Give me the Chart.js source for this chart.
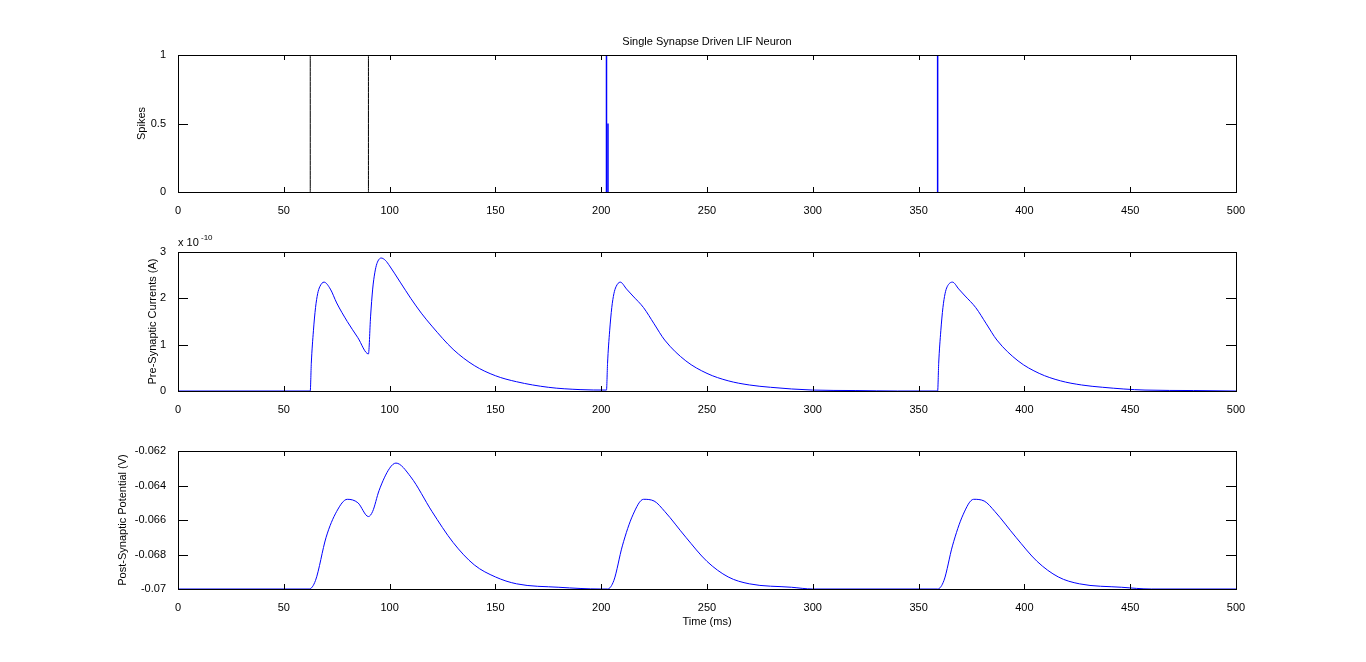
<!DOCTYPE html>
<html><head>
<script src="https://cdn.jsdelivr.net/npm/chart.js@4.4.0/dist/chart.umd.min.js"></script>
<style>
body{margin:0;background:#fff;width:1366px;height:662px;overflow:hidden;position:relative}
.c{position:absolute}
</style></head><body>
<div class="c" id="w1" style="top:0;height:215px"><canvas id="c1"></canvas></div>
<div class="c" id="w2" style="top:215px;height:199px"><canvas id="c2"></canvas></div>
<div class="c" id="w3" style="top:414px;height:215px"><canvas id="c3"></canvas></div>
<script>
// spikes: [time, height]
const inputSpikes = [[62.5, 1], [90, 1]];
const outputSpikes = [[202.5, 1], [203.2, 0.5], [359, 1]];
const xTicks = [0, 50, 100, 150, 200, 250, 300, 350, 400, 450, 500];

// pre-synaptic current, units of 1e-10 A
const curT = [0, 62.5, 63, 64, 65, 66, 67, 69, 72, 75, 80, 85, 90, 91, 92, 93, 94, 96, 98, 100, 105, 110, 115, 120, 130, 140, 150, 160, 175, 190, 202.5,
  203, 204, 205, 206, 207, 209, 212, 215, 220, 225, 230, 240, 250, 260, 270, 280, 300, 320, 340, 359,
  359.5, 360.5, 361.5, 362.5, 363.5, 366, 369, 372, 377, 382, 387, 397, 407, 417, 427, 437, 457, 480, 500];
const curV = [0, 0, 0.6, 1.3, 1.8, 2.1, 2.25, 2.35, 2.2, 1.9, 1.5, 1.15, 0.8, 1.6, 2.2, 2.55, 2.75, 2.87, 2.82, 2.7, 2.35, 2.0, 1.68, 1.4, 0.9, 0.55, 0.33, 0.2, 0.08, 0.03, 0.02,
  0.6, 1.3, 1.8, 2.1, 2.25, 2.35, 2.2, 2.05, 1.8, 1.45, 1.1, 0.65, 0.38, 0.22, 0.13, 0.08, 0.02, 0.01, 0.0, 0.0,
  0.6, 1.3, 1.8, 2.1, 2.25, 2.35, 2.2, 2.05, 1.8, 1.45, 1.1, 0.65, 0.38, 0.22, 0.13, 0.08, 0.02, 0.01, 0.0];

// post-synaptic potential, V
const volT = [0, 62, 65, 70, 75, 80, 85, 90, 92, 95, 100, 103, 110, 120, 130, 140, 150, 160, 180, 200, 203,
  206, 210, 215, 220, 225, 230, 240, 250, 260, 270, 290, 300, 359,
  362, 366, 371, 376, 381, 386, 396, 406, 416, 426, 446, 460, 500];
const volV = [-0.07, -0.07, -0.0695, -0.0670, -0.0655, -0.0648, -0.0650, -0.0658, -0.0655, -0.0643, -0.0630, -0.0627, -0.0635, -0.0655, -0.0673, -0.0686, -0.0693, -0.0697, -0.0699, -0.07, -0.07,
  -0.0695, -0.0675, -0.0657, -0.0648, -0.0649, -0.0655, -0.0670, -0.0684, -0.0693, -0.0697, -0.0699, -0.07, -0.07,
  -0.0695, -0.0675, -0.0657, -0.0648, -0.0649, -0.0655, -0.0670, -0.0684, -0.0693, -0.0697, -0.0699, -0.07, -0.07];

Chart.defaults.font.family = 'Liberation Sans, Arial, sans-serif';
Chart.defaults.font.size = 11;
Chart.defaults.color = '#000';

const boxPlugin = {
  id: 'box',
  afterDraw(chart, args, opts) {
    const {ctx, chartArea: a, scales} = chart;
    ctx.save();
    ctx.strokeStyle = '#000'; ctx.lineWidth = 1;
    ctx.strokeRect(Math.round(a.left) + 0.5, Math.round(a.top) + 0.5, Math.round(a.right - a.left), Math.round(a.bottom - a.top));
    ctx.beginPath();
    scales.x.ticks.forEach((t, i) => {
      const x = Math.round(scales.x.getPixelForTick(i)) + 0.5;
      ctx.moveTo(x, a.bottom); ctx.lineTo(x, a.bottom - 5);
      ctx.moveTo(x, a.top); ctx.lineTo(x, a.top + 5);
    });
    scales.y.ticks.forEach((t, i) => {
      const y = Math.round(scales.y.getPixelForTick(i)) + 0.5;
      ctx.moveTo(a.left, y); ctx.lineTo(a.left + 10, y);
      ctx.moveTo(a.right, y); ctx.lineTo(a.right - 10, y);
    });
    ctx.stroke();
    if (opts.title) {
      ctx.textAlign = 'center'; ctx.textBaseline = 'bottom';
      ctx.fillText(opts.title, (a.left + a.right) / 2, a.top - 8);
    }
    if (opts.exp) {
      ctx.textAlign = 'left'; ctx.textBaseline = 'bottom';
      ctx.fillText('x 10', a.left, a.top - 4);
      ctx.font = '8px Liberation Sans, Arial, sans-serif';
      ctx.fillText('-10', a.left + 23, a.top - 10);
    }
    ctx.restore();
  }
};

function makeChart(id, left, datasets, yMin, yMax, yStep, yLabel, padTop, xTitle, opts) {
  const w = document.getElementById('w' + id.slice(1));
  w.style.left = left + 'px'; w.style.width = (1366 - left) + 'px';
  return new Chart(document.getElementById(id), {
    type: 'line',
    data: {datasets},
    plugins: [boxPlugin],
    options: {
      responsive: true, maintainAspectRatio: false, animation: false,
      layout: {padding: {top: padTop, right: 130, left: 0, bottom: 0}},
      plugins: {legend: {display: false}, tooltip: {enabled: false}, box: opts},
      elements: {point: {radius: 0}, line: {borderWidth: 1, cubicInterpolationMode: 'monotone'}},
      scales: {
        x: {
          type: 'linear', min: 0, max: 500,
          afterBuildTicks: s => { s.ticks = xTicks.map(v => ({value: v})); },
          afterFit: s => { s.height = xTitle ? 40 : 23; },
          grid: {display: false}, border: {display: false},
          ticks: {padding: 4, maxRotation: 0},
          title: {display: !!xTitle, text: xTitle, padding: 0}
        },
        y: {
          min: yMin, max: yMax,
          afterFit: s => { s.width = 178 - left; },
          grid: {display: false}, border: {display: false},
          ticks: {stepSize: yStep, padding: 4, callback: v => opts.fmt ? opts.fmt(v) : v},
          title: {display: true, text: yLabel, padding: 0}
        }
      }
    }
  });
}

const spikeSets = inputSpikes.map(s => ({data: [{x: s[0], y: 0}, {x: s[0], y: s[1]}], borderColor: '#000'}))
  .concat(outputSpikes.map(s => ({data: [{x: s[0], y: 0}, {x: s[0], y: s[1]}], borderColor: '#0000ff', borderWidth: 1.5})));
makeChart('c1', 135, spikeSets, 0, 1, 0.5, 'Spikes', 55, null, {title: 'Single Synapse Driven LIF Neuron'});

makeChart('c2', 146, [{data: curT.map((t, i) => ({x: t, y: curV[i]})), borderColor: '#0000ff'}],
  0, 3, 1, 'Pre-Synaptic Currents (A)', 37, null, {exp: true});

makeChart('c3', 116, [{data: volT.map((t, i) => ({x: t, y: volV[i]})), borderColor: '#0000ff'}],
  -0.07, -0.062, 0.002, 'Post-Synaptic Potential (V)', 37, 'Time (ms)',
  {fmt: v => { const r = Math.round(v * 1000) / 1000; return r === -0.07 ? '-0.07' : r.toFixed(3); }});
</script>
</body></html>
